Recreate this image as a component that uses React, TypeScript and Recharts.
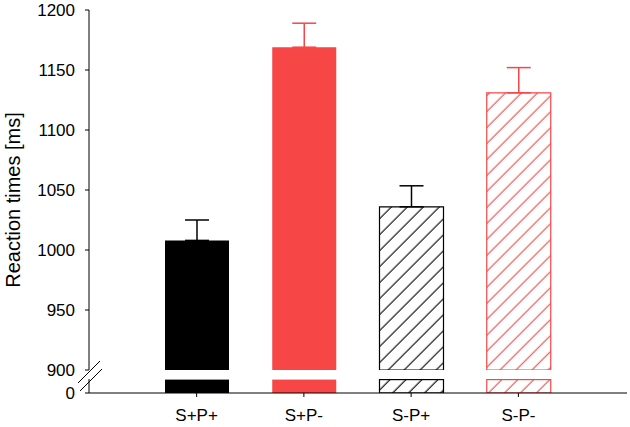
import { Bar, Cell, ComposedChart, ErrorBar, XAxis, YAxis } from 'recharts';

const categories = ['S+P+', 'S+P-', 'S-P+', 'S-P-'];
const means = [1008, 1169, 1036, 1131];
const errors = [17, 20, 17.5, 21];
const isRed = [false, true, false, true];
const hatched = [false, false, true, true];
const upperTicks = [900, 950, 1000, 1050, 1100, 1150, 1200];
const lowerTicks = [0];

const RED = '#f64646';
const FONT = 'Liberation Sans, Arial, sans-serif';

const rows = categories.map((cat, i) => ({
  cat,
  black: isRed[i] ? null : means[i],
  red: isRed[i] ? means[i] : null,
  blackErr: isRed[i] ? null : [0, errors[i]],
  redErr: isRed[i] ? [0, errors[i]] : null,
}));

const fillFor = (i: number, prefix: string) => {
  if (hatched[i]) return `url(#${prefix}-${isRed[i] ? 'red' : 'black'})`;
  return isRed[i] ? RED : '#000';
};
const strokeFor = (i: number) => (hatched[i] ? (isRed[i] ? RED : '#000') : 'none');

// stub below the axis break: cut the bar at the top of the plot so its border stays visible
function StubBar(props: any) {
  const { x, y, width, height, fill, stroke, strokeWidth, background } = props;
  if (x == null || y == null) return null;
  const top = background ? Math.max(y, background.y + 0.6) : y;
  const bottom = y + height;
  return <rect x={x} y={top} width={width} height={Math.max(0, bottom - top)} fill={fill} stroke={stroke} strokeWidth={strokeWidth} />;
}

function Hatches({ prefix }: { prefix: string }) {
  return (
    <defs>
      {[
        ['black', '#000'],
        ['red', RED],
      ].map(([name, color]) => (
        <pattern
          key={name}
          id={`${prefix}-${name}`}
          patternUnits="userSpaceOnUse"
          width={11.3}
          height={11.3}
          patternTransform="rotate(45)"
        >
          <rect width={11.3} height={11.3} fill="#fff" />
          <line x1={5} y1={0} x2={5} y2={11.3} stroke={color} strokeWidth={1.1} />
        </pattern>
      ))}
    </defs>
  );
}

const tickStyle = { fill: '#000', fontSize: 17, fontFamily: FONT };
const PAD = { left: 54, right: 55 };

function Series({ prefix, upper }: { prefix: string; upper: boolean }) {
  const shape = upper ? undefined : (p: any) => <StubBar {...p} />;
  return [
    <Bar key="b" dataKey="black" barSize={64} isAnimationActive={false} shape={shape}>
      {rows.map((_, i) => (
        <Cell key={i} fill={fillFor(i, prefix)} stroke={strokeFor(i)} strokeWidth={1.2} />
      ))}
      {upper && (
        <ErrorBar dataKey="blackErr" direction="y" width={12} stroke="#000" strokeWidth={1.5} />
      )}
    </Bar>,
    <Bar key="r" dataKey="red" barSize={64} isAnimationActive={false} shape={shape}>
      {rows.map((_, i) => (
        <Cell key={i} fill={fillFor(i, prefix)} stroke={strokeFor(i)} strokeWidth={1.2} />
      ))}
      {upper && (
        <ErrorBar dataKey="redErr" direction="y" width={12} stroke={RED} strokeWidth={1.5} />
      )}
    </Bar>,
  ];
}

export default function App() {
  return (
    <div style={{ position: 'absolute', left: 0, top: 0, width: 630, height: 427, background: '#fff' }}>
      <div style={{ position: 'absolute', left: 0, top: 0 }}>
        <ComposedChart
          width={630}
          height={380}
          data={rows}
          barGap={-64}
          margin={{ top: 10, right: 3, bottom: 10, left: 0 }}
        >
          <Hatches prefix="up" />
          <XAxis dataKey="cat" hide padding={PAD} />
          <YAxis
            type="number"
            domain={[900, 1200]}
            ticks={upperTicks}
            allowDataOverflow
            width={89}
            tickSize={4}
            tickMargin={10}
            tick={tickStyle}
            axisLine={{ stroke: '#000' }}
            tickLine={{ stroke: '#000' }}
          />
          {Series({ prefix: 'up', upper: true })}
        </ComposedChart>
      </div>
      <div style={{ position: 'absolute', left: 0, top: 379 }}>
        <ComposedChart
          width={630}
          height={48}
          data={rows}
          barGap={-64}
          margin={{ top: 0, right: 3, bottom: 0, left: 0 }}
        >
          <Hatches prefix="lo" />
          <XAxis
            dataKey="cat"
            padding={PAD}
            height={34}
            tickSize={4}
            tickMargin={12}
            tick={tickStyle}
            axisLine={{ stroke: '#000' }}
            tickLine={{ stroke: '#000' }}
          />
          <YAxis
            type="number"
            domain={[0, 50]}
            ticks={lowerTicks}
            allowDataOverflow
            width={89}
            tickSize={4}
            tickMargin={10}
            tick={tickStyle}
            axisLine={{ stroke: '#000' }}
            tickLine={{ stroke: '#000' }}
          />
          {Series({ prefix: 'lo', upper: false })}
        </ComposedChart>
      </div>
      <svg
        width={630}
        height={427}
        style={{ position: 'absolute', left: 0, top: 0, pointerEvents: 'none' }}
      >
        <text
          x={20}
          y={200}
          transform="rotate(-90 20 200)"
          textAnchor="middle"
          fontSize={20}
          fontFamily={FONT}
          fill="#000"
        >
          Reaction times [ms]
        </text>
        <rect x={86} y={372} width={6} height={7} fill="#fff" />
        <line x1={78} y1={383} x2={100} y2={361} stroke="#000" strokeWidth={1} />
        <line x1={80} y1={391} x2={102} y2={369} stroke="#000" strokeWidth={1} />
      </svg>
    </div>
  );
}
